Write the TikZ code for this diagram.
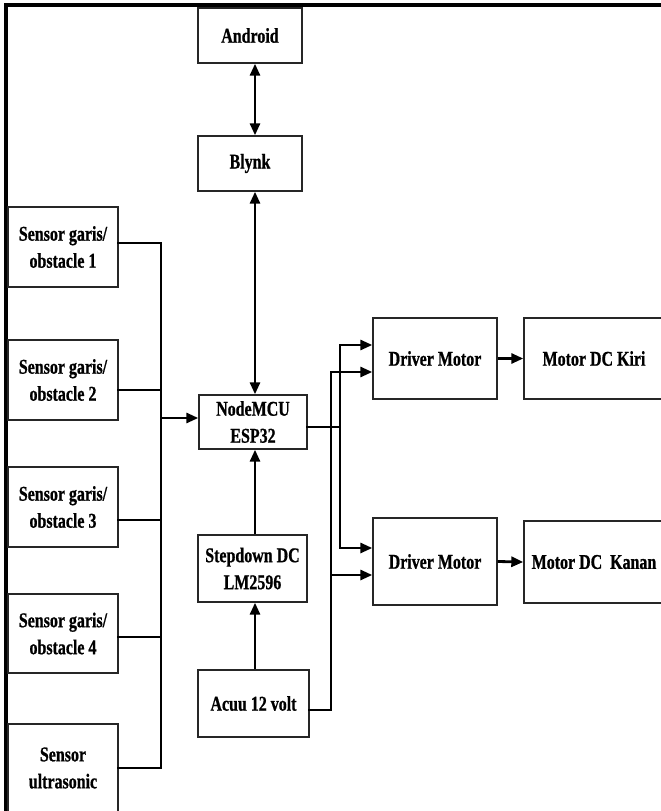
\documentclass[tikz,border=0pt]{standalone}
\usepackage{fontspec}
\setmainfont{Liberation Serif}[FakeStretch=0.76,FakeBold=0.8]
\usetikzlibrary{arrows.meta,calc}
\begin{document}
\begin{tikzpicture}[x=1pt,y=-1pt,
  box/.style={draw=black!85,line width=1.4pt,inner sep=0pt,align=center,
    font=\fontsize{21}{27}\selectfont\bfseries},
  conn/.style={line width=2.8pt,line cap=rect},
  arr/.style={line width=2.8pt,-{Triangle[length=12pt,width=10pt]}},
  darr/.style={line width=2.8pt,{Triangle[length=12pt,width=10pt]}-{Triangle[length=12pt,width=10pt]}},
  frame/.style={line width=3.5pt}]
\useasboundingbox (0,0) rectangle (661,811);
\clip (0,0) rectangle (661,811);
% frame
\draw[frame] (6,813) -- (6,5) -- (663,5);
% nodes
\node[box,minimum width=104pt,minimum height=55pt] (android) at (250,35.5) {Android};
\node[box,minimum width=104pt,minimum height=55pt] (blynk) at (250,163.5) {Blynk};
\node[box,minimum width=110pt,minimum height=80pt] (s1) at (63,247) {Sensor garis/\\obstacle 1};
\node[box,minimum width=110pt,minimum height=80pt] (s2) at (63,380) {Sensor garis/\\obstacle 2};
\node[box,minimum width=110pt,minimum height=80pt] (s3) at (63,507) {Sensor garis/\\obstacle 3};
\node[box,minimum width=110pt,minimum height=79pt] (s4) at (63,633.5) {Sensor garis/\\obstacle 4};
\node[box,minimum width=110pt,minimum height=88pt] (su) at (63,768) {Sensor\\ultrasonic};
\node[box,minimum width=108pt,minimum height=54pt] (mcu) at (253,422) {NodeMCU\\ESP32};
\node[box,minimum width=109pt,minimum height=67pt] (step) at (252.5,568.5) {Stepdown DC\\LM2596};
\node[box,minimum width=111pt,minimum height=67pt] (acuu) at (253.5,703.5) {Acuu 12 volt};
\node[box,minimum width=124pt,minimum height=81pt] (dm1) at (435,358.5) {Driver Motor};
\node[box,minimum width=124pt,minimum height=87pt] (dm2) at (435,561.5) {Driver Motor};
\node[box,minimum width=140pt,minimum height=81pt] (mk) at (594,358.5) {Motor DC Kiri};
\node[box,minimum width=140pt,minimum height=82pt] (mkan) at (594,562) {Motor DC\ \ Kanan};
% helper coordinates
\coordinate (ax) at (255,0);
\coordinate (bus) at (161,0);
\coordinate (vA) at (340,0);
\coordinate (vB) at (331,0);
% vertical arrows
\draw[darr] (android.south -| ax) -- (blynk.north -| ax);
\draw[darr] (blynk.south -| ax) -- (mcu.north -| ax);
\draw[arr] (step.north -| ax) -- (mcu.south -| ax);
\draw[arr] (acuu.north -| ax) -- (step.south -| ax);
% sensor bus
\draw[conn] ([yshift=4pt]s1.east) -| (bus |- su.east) -- (su.east);
\draw[conn] ([yshift=-10pt]s2.east) -- ([yshift=-10pt]s2.east -| bus);
\draw[conn] ([yshift=-13pt]s3.east) -- ([yshift=-13pt]s3.east -| bus);
\draw[conn] ([yshift=-3.5pt]s4.east) -- ([yshift=-3.5pt]s4.east -| bus);
\draw[arr] ([yshift=4pt]mcu.west -| bus) -- ([yshift=4pt]mcu.west);
% nodemcu to drivers
\draw[conn] ([yshift=-5pt]mcu.east) -- ([yshift=-5pt]mcu.east -| vA);
\draw[conn] ([yshift=13.5pt]dm1.west -| vA) -- ([yshift=13.5pt]dm2.west -| vA);
\draw[arr] ([yshift=13.5pt]dm1.west -| vA) -- ([yshift=13.5pt]dm1.west);
\draw[arr] ([yshift=13.5pt]dm2.west -| vA) -- ([yshift=13.5pt]dm2.west);
% battery to drivers
\draw[conn] ([yshift=-6.5pt]acuu.east) -- ([yshift=-6.5pt]acuu.east -| vB) -- ([yshift=-13.5pt]dm1.west -| vB);
\draw[arr] ([yshift=-13.5pt]dm1.west -| vB) -- ([yshift=-13.5pt]dm1.west);
\draw[arr] ([yshift=-13.5pt]dm2.west -| vB) -- ([yshift=-13.5pt]dm2.west);
% drivers to motors
\draw[arr] (dm1.east) -- (mk.west);
\draw[arr] (dm2.east) -- (mkan.west);
\end{tikzpicture}
\end{document}
